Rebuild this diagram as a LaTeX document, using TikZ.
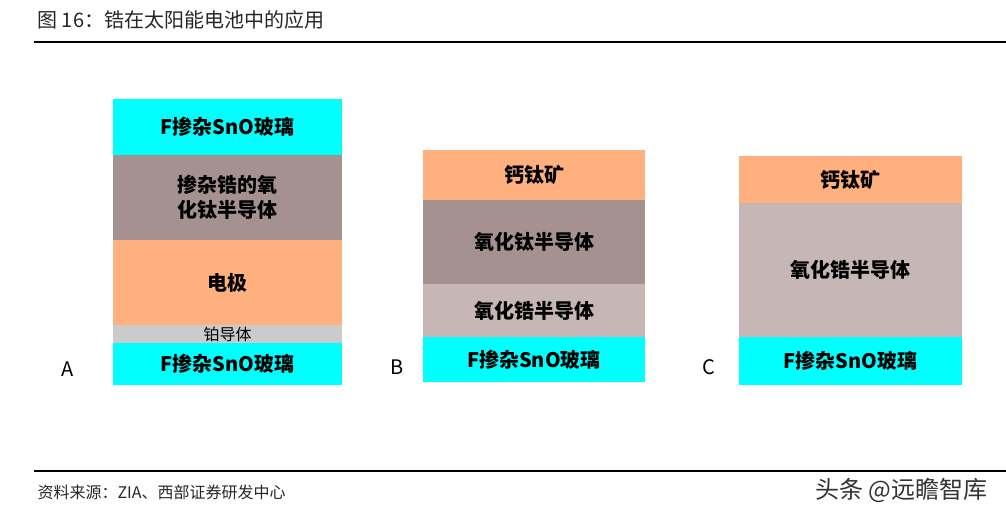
\documentclass[tikz,border=0pt]{standalone}
\usepackage{fontspec}
\setmainfont{Noto Sans CJK SC}
\usepackage{xcolor}
\usetikzlibrary{positioning}
\definecolor{glass}{HTML}{00FFFF}
\definecolor{tio}{HTML}{A69191}
\definecolor{zro}{HTML}{C6B6B6}
\definecolor{perov}{HTML}{FFB07E}
\definecolor{platin}{HTML}{CBCBCB}

\begin{document}
\begin{tikzpicture}[x=1pt,y=-1pt,
  layer/.style={rectangle,inner sep=0pt,outer sep=0pt,font=\fontsize{20}{25}\selectfont\bfseries,align=center},
  stackA/.style={layer,minimum width=229pt},
  stackB/.style={layer,minimum width=222pt},
  stackC/.style={layer,minimum width=223pt},
  tag/.style={font=\fontsize{20}{24}\selectfont}]
  \useasboundingbox (0,0) rectangle (1006,516);

  \node[anchor=west,font=\fontsize{20}{24}\selectfont,text=black!85] (title) at (34,20) {图 16：锆在太阳能电池中的应用};
  \draw[line width=2pt] (34,42) -- (1006,42);

  % A
  \node[stackA,fill=glass,minimum height=56pt,anchor=north west] (a1) at (113,99) {F掺杂SnO玻璃};
  \node[stackA,fill=tio,minimum height=85pt,below=0pt of a1] (a2) {掺杂锆的氧\\化钛半导体};
  \node[stackA,fill=perov,minimum height=85pt,below=0pt of a2] (a3) {电极};
  \node[stackA,fill=platin,minimum height=18pt,below=0pt of a3,font=\fontsize{16}{16}\selectfont] (a4) {铂导体};
  \node[stackA,fill=glass,minimum height=42pt,below=0pt of a4] (a5) {F掺杂SnO玻璃};
  \node[tag] (la) at (68,369) {A};

  % B
  \node[stackB,fill=perov,minimum height=50pt,anchor=north west] (b1) at (423,150) {钙钛矿};
  \node[stackB,fill=tio,minimum height=84pt,below=0pt of b1] (b2) {氧化钛半导体};
  \node[stackB,fill=zro,minimum height=53pt,below=0pt of b2] (b3) {氧化锆半导体};
  \node[stackB,fill=glass,minimum height=45pt,below=0pt of b3] (b4) {F掺杂SnO玻璃};
  \node[tag] (lb) at (397,367) {B};

  % C
  \node[stackC,fill=perov,minimum height=47pt,anchor=north west] (c1) at (739,156) {钙钛矿};
  \node[stackC,fill=zro,minimum height=134pt,below=0pt of c1] (c2) {氧化锆半导体};
  \node[stackC,fill=glass,minimum height=48pt,below=0pt of c2] (c3) {F掺杂SnO玻璃};
  \node[tag] (lc) at (709,367) {C};

  \draw[line width=2pt] (34,471) -- (1006,471);
  \node[anchor=west,font=\fontsize{16}{20}\selectfont,text=black!85] (source) at (34,492) {资料来源：ZIA、西部证券研发中心};
  \node[anchor=east,font=\fontsize{24}{28}\selectfont,text=black!80] (mark) at (991,490) {头条 @远瞻智库};
\end{tikzpicture}
\end{document}
